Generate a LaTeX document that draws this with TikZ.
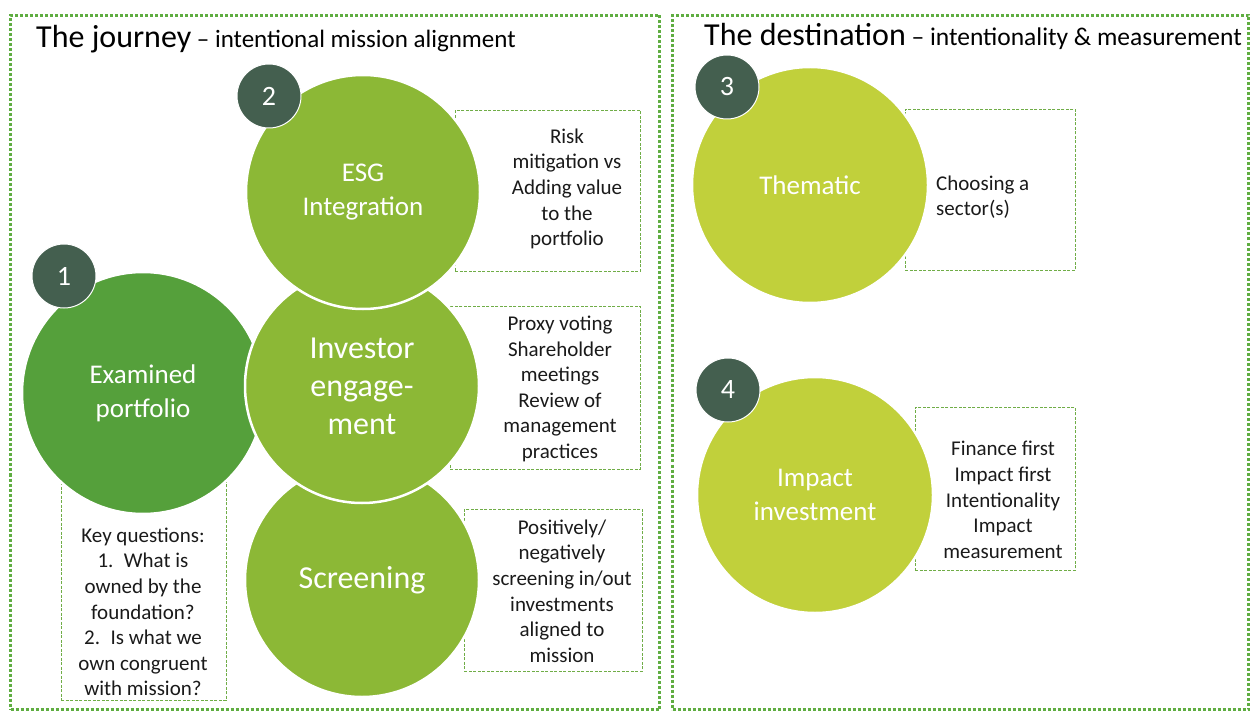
\documentclass[tikz,border=0pt]{standalone}
\usepackage{fontspec}
\setmainfont{Carlito}
\definecolor{frameG}{HTML}{5FAD41}
\definecolor{boxG}{HTML}{70AD47}
\definecolor{darkG}{HTML}{55A03B}
\definecolor{midG}{HTML}{8CB836}
\definecolor{limeG}{HTML}{C1D03B}
\definecolor{numG}{HTML}{445F4F}
\definecolor{txt}{HTML}{1A1A1A}
\tikzset{
 frame/.style={draw=frameG, line width=3pt, dash pattern=on 3pt off 2pt, inner sep=0pt, anchor=north west},
 infobox/.style={draw=boxG, line width=0.9pt, dash pattern=on 3pt off 1.5pt, inner sep=0pt, anchor=north west},
 bigcirc/.style={circle, draw=white, line width=2.5pt, inner sep=0pt, minimum size=234pt, text=white, align=center, font=\fontsize{27}{34}\selectfont},
 numcirc/.style={circle, draw=white, line width=1pt, fill=numG, minimum size=64pt, inner sep=0pt, text=white, font=\fontsize{28}{30}\selectfont},
 boxtext/.style={align=center, font=\fontsize{21}{25.6}\selectfont, text=txt, inner sep=0pt},
 title/.style={anchor=base west, inner sep=0pt, text=black},
}
\begin{document}
\begin{tikzpicture}[x=1pt,y=-1pt]
\useasboundingbox (0,0) rectangle (1250,711);
% frames
\node[frame, minimum width=649pt, minimum height=694pt] (leftframe) at (9,14) {};
\node[frame, minimum width=576pt, minimum height=694pt] (rightframe) at (671,14) {};
% titles
\node[title] (t1) at (36,48) {\fontsize{32}{34}\selectfont The journey\fontsize{25}{28}\selectfont{} – intentional mission alignment};
\node[title] (t2) at (704,46) {\fontsize{32}{34}\selectfont The destination\fontsize{25.5}{28}\selectfont{} – intentionality \& measurement};
% dashed boxes
\node[infobox, minimum width=185pt, minimum height=161pt] (esgbox) at (455,110) {};
\node[infobox, minimum width=190pt, minimum height=163pt] (invbox) at (450,306) {};
\node[infobox, minimum width=178pt, minimum height=162pt] (scrbox) at (464,509) {};
\node[infobox, minimum width=165pt, minimum height=250pt] (keybox) at (61,450) {};
\node[infobox, minimum width=170pt, minimum height=161pt] (thmbox) at (905,109) {};
\node[infobox, minimum width=160pt, minimum height=163pt] (impbox) at (915,407) {};
% box texts
\node[boxtext] (esgtxt) at (567,189) {Risk\\mitigation vs\\Adding value\\to the\\portfolio};
\node[boxtext] (invtxt) at (560,389) {Proxy voting\\Shareholder\\meetings\\Review of\\management\\practices};
\node[boxtext] (scrtxt) at (562,591) {Positively/\\negatively\\screening in/out\\investments\\aligned to\\mission};
\node[boxtext] (keytxt) at (143,612) {Key questions:\\1.\enspace What is\\owned by the\\foundation?\\2.\enspace Is what we\\own congruent\\with mission?};
\node[boxtext, align=left, anchor=west] (thmtxt) at (936,197) {Choosing a\\sector(s)};
\node[boxtext] (imptxt) at (1003,500) {Finance first\\Impact first\\Intentionality\\Impact\\measurement};
% big circles
\node[bigcirc, fill=darkG, minimum size=242pt] (exam) at (143,393) {Examined\\portfolio};
\node[bigcirc, fill=midG, font=\fontsize{32}{38}\selectfont] (scr) at (362,580) {Screening};
\node[bigcirc, fill=midG, font=\fontsize{32}{38}\selectfont] (inv) at (362,386) {Investor\\engage-\\ment};
\node[bigcirc, fill=midG] (esg) at (363,192) {ESG\\Integration};
\node[bigcirc, fill=limeG, minimum size=236pt] (thm) at (810,185) {Thematic};
\node[bigcirc, fill=limeG, minimum size=236pt] (imp) at (815,495) {Impact\\investment};
% number circles
\node[numcirc] (n1) at (64,276) {1};
\node[numcirc] (n2) at (269,96) {2};
\node[numcirc] (n3) at (727,87) {3};
\node[numcirc] (n4) at (728,390) {4};
\end{tikzpicture}
\end{document}
